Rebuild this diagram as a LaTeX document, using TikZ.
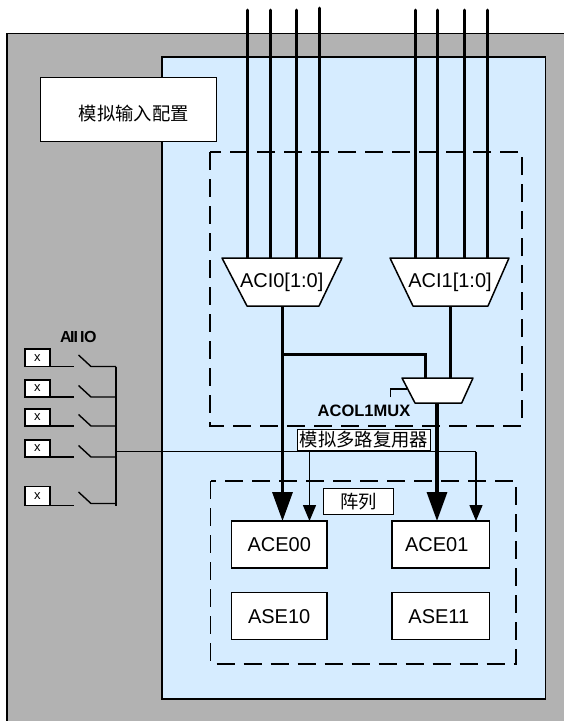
\documentclass[tikz,border=0pt]{standalone}
\usepackage{fontspec}
\setmainfont{Liberation Sans}
\newfontfamily\cjk{Noto Sans CJK SC}
\usetikzlibrary{arrows.meta}
\definecolor{chipgray}{RGB}{178,178,178}
\definecolor{panelblue}{RGB}{214,236,255}
\tikzset{
  block/.style={draw=black, fill=white, line width=1.5pt, inner sep=0pt, outer sep=0pt, font=\fontsize{20}{22}\selectfont},
  cjkbox/.style={draw=black, fill=white, line width=1pt, inner sep=0pt, outer sep=0pt, font=\cjk\fontsize{18.3}{20}\selectfont},
  pinbox/.style={draw=black, fill=white, line width=1.5pt, inner sep=0pt, outer sep=0pt, minimum width=25pt, font=\fontsize{13}{14}\selectfont},
  dashbox/.style={draw=black, line width=1.2pt, dash pattern=on 18pt off 9pt},
  bus/.style={line width=3pt},
  busin/.style={line width=3pt, line cap=round},
  wire/.style={line width=1.4pt},
  thickarrow/.style={line width=3.2pt, -{Triangle[length=29pt,width=20pt]}},
  thinarrow/.style={line width=1.4pt, -{Triangle[length=16pt,width=13pt]}},
  muxshape/.style={draw=black, fill=white, line width=1.5pt, line join=round}
}
\begin{document}
\begin{tikzpicture}[x=1pt,y=-1pt]
\useasboundingbox (0,0) rectangle (564,721);
\path[clip] (0,0) rectangle (564,721);
% background panels
\draw[fill=chipgray, draw=black, line width=1.5pt] (7,33.5) rectangle (580,740);
\draw[fill=panelblue, draw=black, line width=1.5pt] (162,57) rectangle (545.5,699);
\node[cjkbox, minimum width=176.5pt, minimum height=64pt] (config) at (128.7,109.5) {\hspace*{10pt}\raisebox{-10.5pt}[0pt][0pt]{模拟输入配置}};
\draw[dashbox] (210,152) rectangle (522,426);
\draw[dashbox] (210.5,481) rectangle (516,664);
% muxes
\coordinate (in1) at (247,258); \coordinate (in2) at (270,258);
\coordinate (in3) at (296,258); \coordinate (in4) at (319,258);
\coordinate (in5) at (415.5,258); \coordinate (in6) at (437,258);
\coordinate (in7) at (464,258); \coordinate (in8) at (487.5,258);
\coordinate (top1) at (247,10); \coordinate (top2) at (270,10);
\coordinate (top3) at (296,10); \coordinate (top4) at (319,8);
\coordinate (top5) at (415.5,10); \coordinate (top6) at (437,10);
\coordinate (top7) at (464,10); \coordinate (top8) at (487.5,10);
\foreach \i in {1,...,8} \draw[busin] (top\i) -- (in\i);
\draw[muxshape] (222,258) -- (342,258) -- (319,306) -- (247,306) -- cycle;
\draw[muxshape] (390,258) -- (509,258) -- (488,306) -- (413,306) -- cycle;
\node[font=\fontsize{20}{22}\selectfont, inner sep=0pt] (aci0) at (281.7,282.7) {ACI0[1:0]};
\node[font=\fontsize{20}{22}\selectfont, inner sep=0pt] (aci1) at (450,282.7) {ACI1[1:0]};
\coordinate (aci0out) at (282.5,306); \coordinate (aci1out) at (450.5,306);
% array blocks
\node[block, minimum width=95.5pt, minimum height=47pt] (ace00) at (279.2,544.5) {ACE00};
\node[block, minimum width=97.5pt, minimum height=47pt] (ace01) at (440.8,544.5) {\hspace*{-8pt}ACE01};
\node[block, minimum width=95.5pt, minimum height=47pt] (ase10) at (279.2,616.2) {ASE10};
\node[block, minimum width=97.5pt, minimum height=47pt] (ase11) at (440.8,616.2) {\hspace*{-4pt}ASE11};
% column mux
\coordinate (colin0) at (425.7,378); \coordinate (colin1) at (450.5,378);
\coordinate (branch) at (282.5,354); \coordinate (colout) at (437,403);
\coordinate (colsel) at (406.5,389); \coordinate (tip0) at (282.5,521);
\coordinate (tip1) at (437,521);
\draw[thickarrow] (aci0out) -- (tip0);
\draw[bus] (branch) -| (colin0);
\draw[bus] (aci1out) -- (colin1);
\draw[thickarrow] (colout) -- (tip1);
\draw[muxshape] (402,378) -- (473,378) -- (461.7,403) -- (415,403) -- cycle;
\draw[wire] (390.7,397) |- (colsel);
\node[font=\bfseries\fontsize{16.5}{18}\selectfont, inner sep=0pt] (colname) at (364,411) {ACOL1MUX};
% pins and switches
\node[font=\bfseries\fontsize{16}{18}\selectfont, inner sep=0pt] (aiio) at (78.3,337) {A\kern-1.5pt I\kern-1pt I\kern2pt I\kern-0.5pt O};
\coordinate (rail) at (116,451.5);
\foreach \n/\ya/\yb/\yc in {a/349/366.5/366.5, b/380/397/397, c/409/426/426, d/440/457/457, e/486.5/505.5/503.5}{
  \node[pinbox, minimum height=\yb pt-\ya pt, anchor=north west] (pin\n) at (25,\ya) {x};
  \coordinate (sw\n) at (74,\yb);
  \coordinate (bus\n) at (116,\yc);
  \draw[wire] (pin\n.south east) -- (sw\n);
  \draw[wire] (78.5,\yc-11.5) -- (91,\yc) -- (bus\n);
}
\draw[line width=1.5pt] (busa) -- (116,506);
\coordinate (railend) at (476,451.5); \coordinate (railmid) at (309.5,451.5);
\draw[wire] (rail) -- (railend);
\draw[thinarrow] (railmid) -- (309.5,521);
\draw[thinarrow] (railend) -- (476,521);
\node[cjkbox, minimum width=133.5pt, minimum height=21.5pt] (muxname) at (364,440) {模拟多路复用器};
\node[cjkbox, minimum width=70pt, minimum height=26pt] (arrayname) at (358.3,501.3) {阵列};
\end{tikzpicture}
\end{document}
